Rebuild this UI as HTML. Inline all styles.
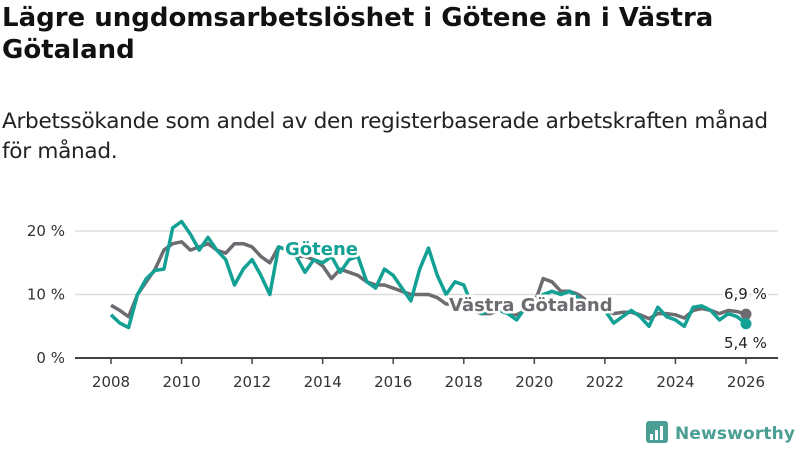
<!DOCTYPE html>
<html><head><meta charset="utf-8"><style>
body{margin:0;width:800px;height:450px;background:#fff;font-family:"Liberation Sans","DejaVu Sans",sans-serif;overflow:hidden;position:relative}
h1{position:absolute;left:2px;top:2px;margin:0;font-size:26px;line-height:32px;font-weight:bold;color:#111;font-family:"DejaVu Sans",sans-serif;letter-spacing:0}
p{position:absolute;left:2px;top:107px;margin:0;font-size:21.6px;line-height:30px;color:#222;font-family:"DejaVu Sans",sans-serif;letter-spacing:-0.3px}
svg{position:absolute;left:0;top:0}
</style></head><body>
<h1>Lägre ungdomsarbetslöshet i Götene än i Västra<br>Götaland</h1>
<p>Arbetssökande som andel av den registerbaserade arbetskraften månad<br>för månad.</p>
<svg id="c" width="800" height="450"></svg>
<script>
const years=[];for(let i=0;i<=72;i++)years.push(2008+i/4);
const gotene=[6.8,5.5,4.8,10,12.5,13.8,14,20.5,21.5,19.5,17,19,17,15.5,11.5,14,15.5,13,10,17.5,17,16,13.5,15.5,15,16,13.5,15.5,16,12,11,14,13,11,9,14,17.3,13,10,12,11.5,8,7,7.5,7.5,7,6,8,9,10,10.5,10,10.5,9.5,8,7.5,7.5,5.5,6.5,7.5,6.5,5,8,6.5,6,5,8,8.2,7.5,6,7,6.5,5.4];
const vg=[8.3,7.5,6.5,10,12,14,17,18,18.3,17,17.5,18,17,16.5,18,18,17.5,16,15,17.5,17,16,16,15.5,14.5,12.5,14,13.5,13,12,11.5,11.5,11,10.5,10,10,10,9.5,8.5,8.5,8,7.5,7,7,7.5,7,6.8,7.5,8.5,12.5,12,10.5,10.5,10,9,8,7.5,7,7.2,7.2,6.8,6.2,7,7,6.8,6.3,7.5,7.8,7.5,7,7.5,7.3,6.9];
const yTicks=[0,10,20];const xTicks=[2008,2010,2012,2014,2016,2018,2020,2022,2024,2026];
const X=v=>111+(v-2008)*(746-111)/18, Y=v=>358-v*6.35;
const s=document.getElementById('c');const NS='http://www.w3.org/2000/svg';
function mk(t,a,p){const e=document.createElementNS(NS,t);for(const k in a)e.setAttribute(k,a[k]);(p||s).appendChild(e);return e;}
yTicks.forEach(v=>{
 if(v>0){const g=mk('line',{x1:75,x2:778,y1:Y(v),y2:Y(v),stroke:'#ddd','stroke-width':1.5});
 
 }
 const t=mk('text',{x:65,y:Y(v)+5,'text-anchor':'end','font-size':15,fill:'#333','font-family':'DejaVu Sans,sans-serif'});t.textContent=v+' %';
 
 
});
const ax=mk('line',{x1:75,x2:778,y1:358,y2:358,stroke:'#444','stroke-width':2});


xTicks.forEach(v=>{mk('line',{x1:X(v),x2:X(v),y1:358,y2:364,stroke:'#444','stroke-width':1.5});
 const t=mk('text',{x:X(v),y:387,'text-anchor':'middle','font-size':15,fill:'#333','font-family':'DejaVu Sans,sans-serif'});t.textContent=v;
 
 });
function line(d,c,n){const p=mk('path',{d:d.map((v,i)=>(i?'L':'M')+X(years[i]).toFixed(1)+','+Y(v).toFixed(1)).join(''),fill:'none',stroke:c,'stroke-width':3.5,'stroke-linejoin':'round'});
 
 
 const dt=mk('circle',{cx:X(years[d.length-1]),cy:Y(d[d.length-1]),r:5.5,fill:c});
 
 }
line(vg,'#6d6c71','vastra-gotaland-line');line(gotene,'#13a195','gotene-line');
function lab(x,y,txt,c,n,sz,w){const t=mk('text',{x:x,y:y,'font-size':sz,'font-weight':w,fill:c,stroke:'#fff','stroke-width':w=='bold'?5:4,'paint-order':'stroke','font-family':'DejaVu Sans,sans-serif'});t.textContent=txt;
 
 }
lab(285,255,'Götene','#13a195','gotene-label',18,'bold');
lab(449,311,'Västra Götaland','#6d6c71','vastra-gotaland-label',18,'bold');
lab(724,299,'6,9 %','#222','vg-end-value',15,'normal');
lab(724,348,'5,4 %','#222','gotene-end-value',15,'normal');
const lg=mk('g',{});

mk('rect',{x:646,y:421,width:22,height:22,rx:3,fill:'#4a9e93'},lg);
[[650,434,3,6],[655,430,3,10],[660,426,3,14]].forEach(r=>mk('rect',{x:r[0],y:r[1],width:r[2],height:r[3],fill:'#fff'},lg));
const lt=mk('text',{x:675,y:439,'font-size':17,'font-weight':'bold',fill:'#4a9e93','font-family':'DejaVu Sans,sans-serif','textLength':120},lg);lt.textContent='Newsworthy';
</script>
</body></html>
